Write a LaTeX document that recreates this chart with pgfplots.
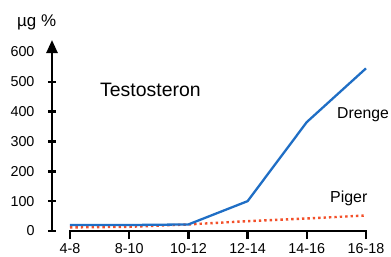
\documentclass[border=0pt]{standalone}
\usepackage{pgfplots}
\pgfplotsset{compat=1.18}
\usetikzlibrary{arrows.meta}
\usepackage{fontspec}
\setmainfont{Liberation Sans}
\definecolor{dblue}{RGB}{31,110,197}
\definecolor{dred}{RGB}{243,80,42}
\begin{document}
\begin{tikzpicture}
\useasboundingbox (0,0) rectangle (391bp,257bp);
\begin{axis}[
  at={(52bp,26bp)}, anchor=south west,
  scale only axis, width=314bp, height=191bp,
  xmin=-0.304, xmax=5, ymin=0, ymax=640,
  axis lines=left,
  x axis line style={draw=none},
  y axis line style={line width=2.5bp, -{Triangle[width=11bp,length=13bp]}},
  xtick={0,1,2,3,4,5},
  xticklabels={4-8,8-10,10-12,12-14,14-16,16-18},
  ytick={0,100,200,300,400,500,600},
  /pgf/number format/assume math mode=true,
  tick label style={font=\fontsize{14.4}{16}\selectfont},
  x tick style={line width=2.5bp, black},
  y tick style={line width=2.5bp, black},
  xtick align=outside, ytick align=center,
  major tick length=8bp,
  xticklabel style={anchor=north, inner sep=0pt, yshift=-4bp},
  y tick label style={xshift=-10bp},
  clip=false,
]
\draw[line width=2.5bp, line cap=rect] (axis cs:0,0) -- (axis cs:5,0);
\addplot[dred, line width=2.4bp, dash pattern=on 2.4bp off 3bp] coordinates {
(0,12) (1,14) (2,22) (3,33) (4,42) (5,52)};
\addplot[dblue, line width=2.3bp] coordinates {
(0,20) (1,20) (2,22) (3,100) (4,365) (5,545)};
\end{axis}
\node[anchor=base west, inner sep=0pt, font=\fontsize{17}{20}\selectfont] at (17bp,230bp) {µg \%};
\node[anchor=base west, inner sep=0pt, font=\fontsize{19.5}{22}\selectfont] at (100bp,160bp) {Testosteron};
\node[anchor=base west, inner sep=0pt, font=\fontsize{15.8}{18}\selectfont] at (337bp,138bp) {Drenge};
\node[anchor=base west, inner sep=0pt, font=\fontsize{16}{18}\selectfont] at (330bp,54bp) {Piger};
\end{tikzpicture}
\end{document}
